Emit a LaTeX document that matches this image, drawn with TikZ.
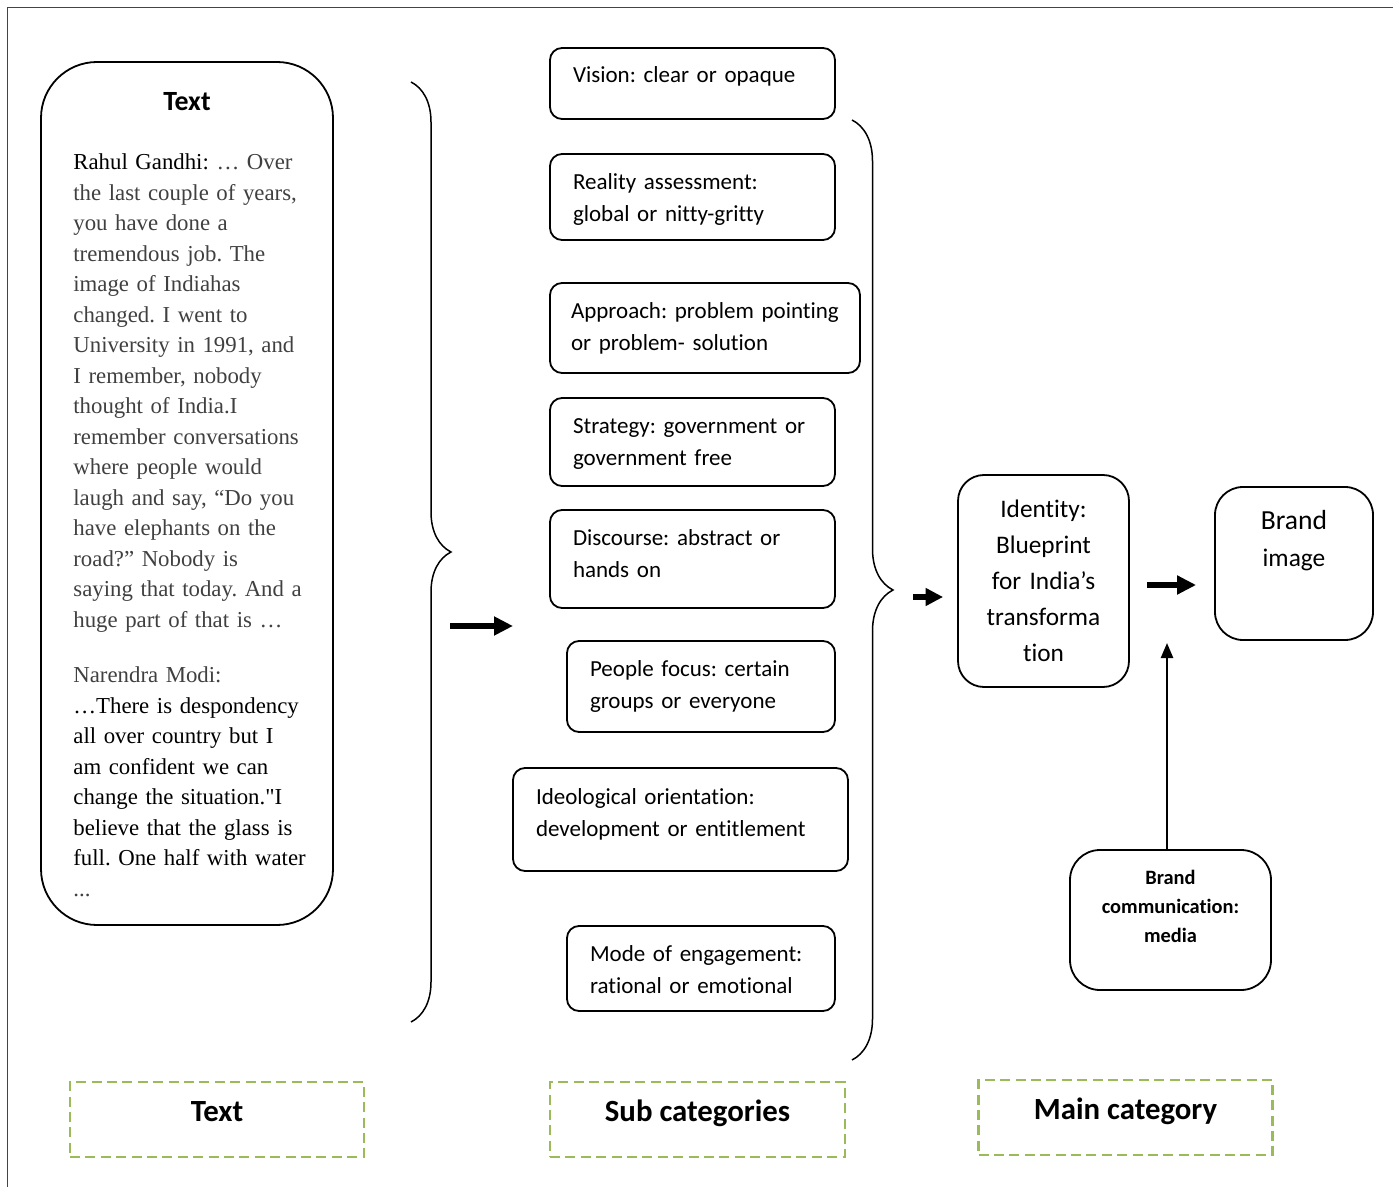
\documentclass[tikz,border=0pt]{standalone}
\usepackage{fontspec}
\setmainfont{Liberation Serif}[Ligatures=TeXOff]
\newfontfamily\calib{Carlito}[Ligatures=NoCommon]
\usetikzlibrary{arrows.meta, decorations.pathreplacing}
\frenchspacing
\definecolor{cFrame}{RGB}{68,68,68}
\definecolor{cQuote}{RGB}{64,64,64}
\definecolor{cLegend}{RGB}{155,187,89}
\tikzset{
	subcat/.style ={rectangle, draw=black, line width=0.9pt, rounded corners=6pt, align=left, inner xsep=11.5pt, inner ysep=0pt, font=\calib\fontsize{11.5}{16}\selectfont, text height=8.6pt, text depth=18.5pt},
	maincat/.style={rectangle, draw=black, line width=0.9pt, rounded corners=14pt, align=center, inner sep=3pt},
	legend/.style ={rectangle, draw=cLegend, line width=1.2pt, dash pattern=on 5pt off 2.7pt, minimum width=147pt, minimum height=37.5pt, font=\calib\bfseries\fontsize{15.4}{18}\selectfont, text height=11pt, text depth=9pt},
	bigarrow/.style={line width=3.2pt, -{Triangle[length=9.5pt, width=9pt]}},
	sig/.style    ={line width=1.2pt, -{Triangle[length=7.5pt, width=6pt]}},
	curly/.style  ={decorate, decoration={brace, amplitude=#1}, line width=0.75pt},
}
\begin{document}
\begin{tikzpicture}[x=0.5pt, y=-0.5pt]
	\useasboundingbox (0,0) rectangle (1393,1187);
	\draw[cFrame, line width=0.8pt] (7.5,1187) -- (7.5,7.5) -- (1393,7.5);
	% text column
	\node[maincat, rounded corners=28pt, minimum width=146pt, minimum height=431.5pt] (txt) at (187,493.5) {};
	\node[font=\calib\bfseries\fontsize{13.9}{16}\selectfont] (txthead) at (187,102) {Text};
	\node[anchor=base west, inner sep=0pt, text width=125pt, align=left, font=\fontsize{11.4}{15.25}\selectfont] (quote) at (73,170)
		{Rahul Gandhi: {\color{cQuote}… Over\\
		the last couple of years,\\
		you have done a\\
		tremendous job. The\\
		image of Indiahas\\
		changed. I went to\\
		University in 1991, and\\
		I remember, nobody\\
		thought of India.I\\
		remember conversations\\
		where people would\\
		laugh and say, “Do you\\
		have elephants on the\\
		road?” Nobody is\\
		saying that today. And a\\
		huge part of that is …}\\[12.5pt]
		{\color{cQuote}Narendra Modi:}\\
		…There is despondency\\
		all over country but I\\
		am confident we can\\
		change the situation."I\\
		believe that the glass is\\
		full. One half with water\\
		{\color{cQuote}...}};
	\draw[curly=20pt] (411,82) -- (411,1022);
	\coordinate (arrA) at (450,626);
	\coordinate (arrB) at (513,626);
	\draw[bigarrow] (arrA) -- (arrB);
	% sub categories
	\node[subcat, minimum width=142.5pt, minimum height=35.5pt, text width=119.5pt, text depth=9.7pt] (vis) at (692.5,83.5) {Vision: clear or opaque};
	\node[subcat, minimum width=142.5pt, minimum height=43pt, text width=119.5pt, text depth=16.2pt] (real) at (692.5,197) {Reality assessment:\\global or nitty-gritty};
	\node[subcat, minimum width=155pt, minimum height=45pt, text width=134pt, inner xsep=10.5pt] (appr) at (705,328) {\mbox{Approach: problem pointing}\\or problem- solution};
	\node[subcat, minimum width=142.5pt, minimum height=44pt, text width=119.5pt, text depth=17.2pt] (strat) at (692.5,442) {Strategy: government or\\government free};
	\node[subcat, minimum width=142.5pt, minimum height=49pt, text width=119.5pt, text depth=22.2pt] (disc) at (692.5,559) {Discourse: abstract or\\hands on};
	\node[subcat, minimum width=134pt, minimum height=45.5pt, text width=111pt] (ppl) at (701,686.5) {People focus: certain\\groups or everyone};
	\node[subcat, minimum width=167.5pt, minimum height=51.5pt, text width=144.5pt, text depth=23.7pt] (ideo) at (680.5,819.5) {Ideological orientation:\\development or entitlement};
	\node[subcat, minimum width=134pt, minimum height=42.5pt, text width=111pt, text depth=15.7pt] (mode) at (701,968.5) {Mode of engagement:\\rational or emotional};
	\draw[curly=20.5pt] (852,120) -- (852,1060);
	% main category
	\node[maincat, rounded corners=13pt, minimum width=85.5pt, minimum height=106pt, text width=76pt, font=\calib\fontsize{12.65}{18}\selectfont] (idn) at (1043.5,581) {Identity:\\Blueprint\\for India’s\\transforma\\tion};
	\node[maincat, minimum width=79pt, minimum height=76.5pt, text width=70pt, font=\calib\fontsize{12.7}{18.5}\selectfont, text height=10.4pt, text depth=44.3pt] (brand) at (1294,563.5) {{\fontsize{13.8}{18.5}\selectfont Brand}\\image};
	\node[maincat, rounded corners=15pt, minimum width=100.5pt, minimum height=70pt, text width=90pt, font=\calib\bfseries\fontsize{10.2}{14.5}\selectfont, text height=7.6pt, text depth=43pt] (bcm) at (1170.5,920) {Brand\\communication:\\media};
	\coordinate (rbrace) at (913,597);
	\draw[bigarrow, -{Triangle[length=8.75pt, width=8.5pt]}] (rbrace) -- ([shift={(-14,16)}]idn.west);
	\draw[bigarrow] ([shift={(17,4)}]idn.east) -- ([shift={(-18,21.5)}]brand.west);
	\coordinate (join) at (1167,643);
	\draw[sig] (bcm.north -| join) -- (join);
	% legend
	\node[legend] (legText) at (217,1119.5) {Text};
	\node[legend, minimum width=147.5pt] (legSub) at (697.5,1119.5) {Sub categories};
	\node[legend] (legMain) at (1125.5,1117.5) {Main category};
\end{tikzpicture}
\end{document}
